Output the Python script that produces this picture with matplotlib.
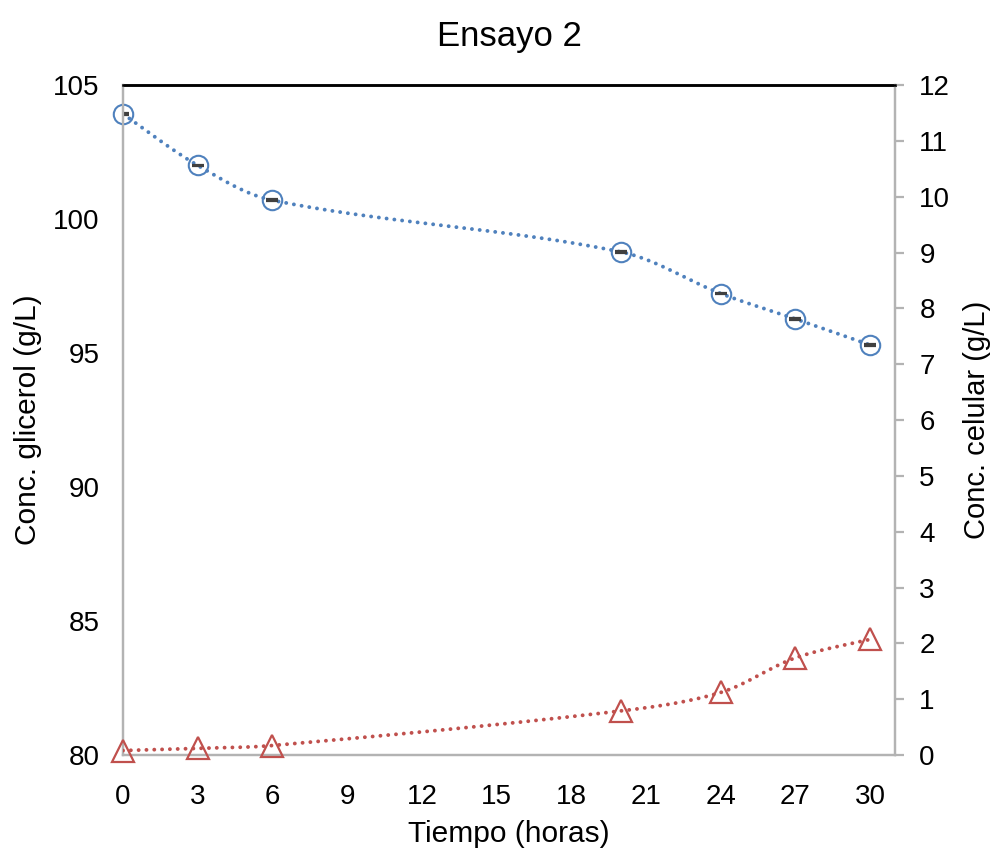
import numpy as np
import matplotlib
matplotlib.use("Agg")
import matplotlib.pyplot as plt

plt.rcParams['font.family'] = ['Liberation Sans', 'DejaVu Sans']

# Sampling times (h)
tiempo = [0, 3, 6, 20, 24, 27, 30]
# Glycerol concentration (g/L), left axis
glicerol = [103.92, 102.0, 100.7, 98.77, 97.22, 96.27, 95.3]
glicerol_err = [0.03, 0.03, 0.03, 0.03, 0.03, 0.03, 0.03]
# Cell concentration (g/L), right axis
celular = [0.08, 0.12, 0.17, 0.79, 1.12, 1.74, 2.07]

x_ticks = list(range(0, 31, 3))
left_ticks = [80, 85, 90, 95, 100, 105]
right_ticks = list(range(0, 13))

BLUE = '#4F81BD'
RED = '#C0504D'
SPINE = '#B3B3B3'


def smooth(xs, ys, sx, sy, n=60):
    """Piecewise cubic Bezier through the points. Tangents follow the
    neighbour chord; handle lengths are proportional to the adjacent
    segment lengths, measured in screen-like units (sx, sy per data unit)."""
    scale = np.array([sx, sy])
    q = np.column_stack([xs, ys]).astype(float) * scale
    m = len(q)
    d = np.linalg.norm(np.diff(q, axis=0), axis=1)
    fwd, bwd = [], []
    for i in range(m):
        prv = q[i - 1] if i > 0 else q[i]
        nxt = q[i + 1] if i < m - 1 else q[i]
        dp = d[i - 1] if i > 0 else 0.0
        dn = d[i] if i < m - 1 else 0.0
        tan = nxt - prv
        tot = dp + dn
        fwd.append(tan * (dn / tot) / 3.0 if i > 0 else (q[1] - q[0]) / 6.0)
        bwd.append(tan * (dp / tot) / 3.0 if i < m - 1 else (q[-1] - q[-2]) / 6.0)
    t = np.linspace(0, 1, n)[:, None]
    out = []
    for i in range(m - 1):
        p0, p3 = q[i], q[i + 1]
        c1 = p0 + fwd[i]
        c2 = p3 - bwd[i + 1]
        seg = ((1 - t) ** 3) * p0 + 3 * ((1 - t) ** 2) * t * c1 \
            + 3 * (1 - t) * t ** 2 * c2 + t ** 3 * p3
        out.append(seg if i == 0 else seg[1:])
    out = np.vstack(out) / scale
    return out[:, 0], out[:, 1]


fig = plt.figure(figsize=(9.97, 8.48), dpi=100)
ax = fig.add_axes([123 / 997, 1 - 755 / 848, (895 - 123) / 997, (755 - 85) / 848])
ax2 = ax.twinx()

dot_style = (0, (0.01, 2.0))
px_x = (895 - 123) / 31.0

# Glycerol series
gx, gy = smooth(tiempo, glicerol, px_x, 670 / 25.0)
ax.plot(gx, gy, color=BLUE, lw=2.8, linestyle=dot_style, dash_capstyle='round', zorder=3)
ax.errorbar(tiempo, glicerol, yerr=glicerol_err, fmt='none', ecolor='#404040',
            elinewidth=1.5, capsize=4.3, capthick=1.6, zorder=4)
ax.plot(tiempo, glicerol, linestyle='none', marker='o', ms=14, mfc='none',
        mec=BLUE, mew=1.5, zorder=5, clip_on=False)

# Cell series
cx, cy = smooth(tiempo, celular, px_x, 670 / 12.0)
ax2.plot(cx, cy, color=RED, lw=2.8, linestyle=dot_style, dash_capstyle='round', zorder=3)
ax2.plot(tiempo, celular, linestyle='none', marker='^', ms=16, mfc='none',
         mec=RED, mew=1.6, zorder=5, clip_on=False)

ax.set_xlim(0, 31)
ax.set_ylim(80, 105)
ax2.set_ylim(0, 12)
ax.set_xticks(x_ticks)
ax.set_yticks(left_ticks)
ax2.set_yticks(right_ticks)

for a in (ax, ax2):
    for s in a.spines.values():
        s.set_linewidth(1.6)
        s.set_color(SPINE)
    a.spines['top'].set_color('black')
    a.spines['top'].set_linewidth(1.8)

ax.tick_params(axis='x', length=0, labelsize=20, pad=21)
ax.tick_params(axis='y', length=0, labelsize=20, pad=17)
ax2.tick_params(axis='y', length=6.5, width=1.6, color=SPINE, labelsize=20, pad=11)

ax.set_title('Ensayo 2', fontsize=25, pad=28)
ax.set_xlabel('Tiempo (horas)', fontsize=21.5, labelpad=7)
ax.set_ylabel('Conc. glicerol (g/L)', fontsize=21.5, labelpad=8)
ax2.set_ylabel('Conc. celular (g/L)', fontsize=21, rotation=90, labelpad=9)

fig.savefig('out.png', dpi=100)
